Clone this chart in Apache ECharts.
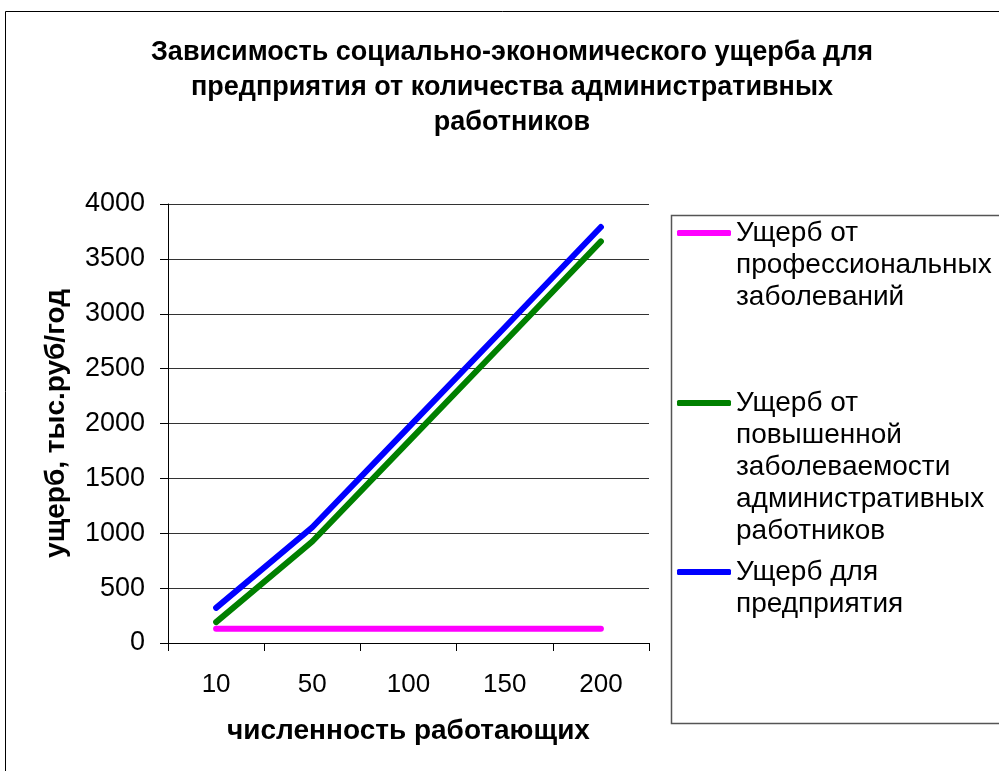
<!DOCTYPE html>
<html>
<head>
<meta charset="utf-8">
<script src="https://cdn.jsdelivr.net/npm/echarts@6/dist/echarts.min.js"></script>
<style>
  html, body { margin: 0; padding: 0; background: #fff; }
  #chart { width: 999px; height: 771px; }
</style>
</head>
<body>
<div id="chart"></div>
<script>
// численность работающих
const categories = ["10", "50", "100", "150", "200"];
// ущерб, тыс.руб/год
const profDisease = [130, 130, 130, 130, 130];
const adminDisease = [190, 925, 1835, 2745, 3660];
const enterpriseLoss = [320, 1055, 1965, 2875, 3790];

const seriesNames = [
    "Ущерб от\nпрофессиональных\nзаболеваний",
    "Ущерб от\nповышенной\nзаболеваемости\nадминистративных\nработников",
    "Ущерб для\nпредприятия",
];
const colors = ["#ff00ff", "#008000", "#0000ff"];

const FONT = "Liberation Sans, Arial, sans-serif";
const LH = 32;

const chart = echarts.init(document.getElementById("chart"), null, { renderer: "canvas" });

// одна легенда на серию; пустые строки сверху ставят значок напротив первой строки
const legendTops = [233, 403, 572];
const legends = seriesNames.map((name, i) => {
    const n = name.split("\n").length;
    return {
        data: [name],
        left: 677,
        top: legendTops[i] - ((2 * n - 1) * LH) / 2,
        orient: "vertical",
        padding: 0,
        icon: "roundRect",
        itemWidth: 54,
        itemHeight: 6,
        itemGap: 0,
        selectedMode: false,
        formatter: (nm) => "\n".repeat(n - 1) + nm,
        textStyle: {
            fontFamily: FONT,
            fontSize: 28,
            color: "#000",
            lineHeight: LH,
        },
    };
});

const makeSeries = (name, data, color) => ({
    name,
    type: "line",
    data,
    symbol: "none",
    lineStyle: { color, width: 6, cap: "round", join: "round" },
    itemStyle: { color },
    animation: false,
    z: 3,
});

chart.setOption({
    backgroundColor: "#fff",
    animation: false,
    title: {
        text: "Зависимость социально-экономического ущерба для\nпредприятия от количества административных\nработников",
        left: 507,
        top: 30,
        textAlign: "center",
        textStyle: { fontFamily: FONT, fontSize: 27, fontWeight: "bold", color: "#000", lineHeight: 35 },
    },
    legend: legends,
    grid: { left: 168, right: 350, top: 204, bottom: 128, containLabel: false },
    xAxis: {
        type: "category",
        data: categories,
        boundaryGap: true,
        name: "численность работающих",
        nameLocation: "middle",
        nameGap: 74,
        nameTextStyle: { fontFamily: FONT, fontSize: 28, fontWeight: "bold", color: "#000" },
        axisLine: { lineStyle: { color: "#000", width: 1 } },
        axisTick: { show: true, length: 8, lineStyle: { color: "#000" } },
        axisLabel: { fontFamily: FONT, fontSize: 26, color: "#000", margin: 29 },
        splitLine: { show: false },
    },
    yAxis: {
        type: "value",
        min: 0,
        max: 4000,
        interval: 500,
        name: "ущерб, тыс.руб/год",
        nameLocation: "middle",
        nameGap: 98,
        nameRotate: 90,
        nameTextStyle: { fontFamily: FONT, fontSize: 28, fontWeight: "bold", color: "#000" },
        axisLine: { show: true, lineStyle: { color: "#000", width: 1 } },
        axisTick: { show: true, length: 8, lineStyle: { color: "#000" } },
        axisLabel: { fontFamily: FONT, fontSize: 27, color: "#000", margin: 23, formatter: (v) => String(v) },
        splitLine: { show: true, lineStyle: { color: "#333", width: 1 } },
    },
    graphic: [
        {
            type: "rect",
            shape: { x: 5.5, y: 11.5, width: 1000, height: 770 },
            style: { fill: null, stroke: "#000", lineWidth: 1 },
            silent: true,
            z: -1,
        },
        {
            type: "rect",
            shape: { x: 671.5, y: 215.5, width: 340, height: 508 },
            style: { fill: null, stroke: "#555", lineWidth: 1.5 },
            silent: true,
            z: -1,
        },
    ],
    series: [
        makeSeries(seriesNames[0], profDisease, colors[0]),
        makeSeries(seriesNames[1], adminDisease, colors[1]),
        makeSeries(seriesNames[2], enterpriseLoss, colors[2]),
    ],
});
</script>
</body>
</html>
